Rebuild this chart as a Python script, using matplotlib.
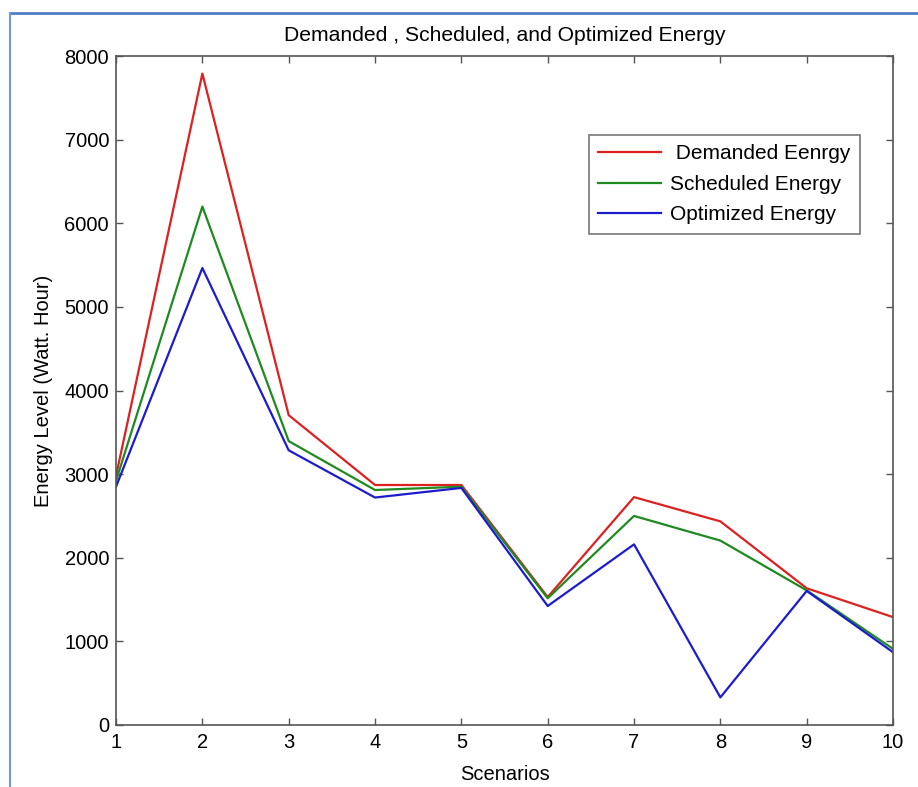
import matplotlib
matplotlib.use("Agg")
import matplotlib.pyplot as plt
from matplotlib.lines import Line2D

plt.rcParams['font.family'] = ['Liberation Sans', 'DejaVu Sans']

scenarios = [1, 2, 3, 4, 5, 6, 7, 8, 9, 10]
demanded = [2980, 7790, 3705, 2870, 2870, 1530, 2725, 2435, 1635, 1290]
scheduled = [2920, 6200, 3395, 2810, 2850, 1515, 2500, 2205, 1610, 910]
optimized = [2850, 5465, 3285, 2720, 2835, 1423, 2160, 330, 1603, 870]

series_labels = [' Demanded Eenrgy', 'Scheduled Energy', 'Optimized Energy']
series_colors = ['#dd2020', '#1f8a1f', '#1c1ccc']

fig = plt.figure(figsize=(9.18, 7.87), dpi=100)
ax = fig.add_axes([0.1264, 0.0788, 0.8464, 0.85])

for vals, lab, col in zip([demanded, scheduled, optimized], series_labels, series_colors):
    ax.plot(scenarios, vals, color=col, lw=1.6, label=lab)

ax.set_xlim(1, 10)
ax.set_ylim(0, 8000)
ax.set_xticks(scenarios)
ax.set_yticks(range(0, 8001, 1000))
ax.tick_params(direction='in', top=True, right=True, length=5, width=1,
               color='#555555', labelsize=14.5, pad=5)
ax.tick_params(axis='x', pad=6)
for s in ax.spines.values():
    s.set_color('#555555')
    s.set_linewidth(1.2)

ax.set_title('Demanded , Scheduled, and Optimized Energy', fontsize=15.2, pad=11)
ax.set_xlabel('Scenarios', fontsize=14.5, labelpad=9)
ax.set_ylabel('Energy Level (Watt. Hour)', fontsize=14.5, labelpad=8)

leg = ax.legend(loc='upper left', bbox_to_anchor=(589 / 918, 1 - 135 / 787),
                bbox_transform=fig.transFigure, fontsize=15, frameon=True,
                fancybox=False, borderpad=0.45, labelspacing=0.55,
                handlelength=3.0, handletextpad=0.45, borderaxespad=0)
leg.get_frame().set_edgecolor('#555555')
leg.get_frame().set_linewidth(1.2)

# page frame around the figure
fig.add_artist(Line2D([10 / 918, 1.0], [1 - 13 / 787, 1 - 13 / 787],
                      transform=fig.transFigure, color='#4f7fc4', lw=2))
fig.add_artist(Line2D([10 / 918, 10 / 918], [0.0, 1 - 13 / 787],
                      transform=fig.transFigure, color='#6a9ae0', lw=1.5))

fig.savefig('out.png', dpi=100)
